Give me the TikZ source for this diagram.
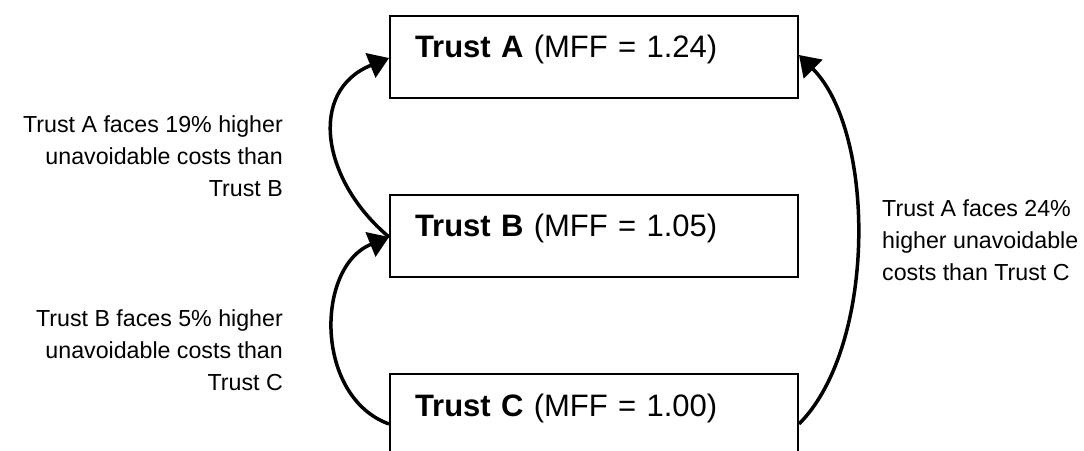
\documentclass[tikz,border=0pt]{standalone}
\usepackage{fontspec}
\setmainfont{Liberation Sans}
\usetikzlibrary{arrows.meta}

\begin{document}
\begin{tikzpicture}[x=1pt, y=1pt, node distance=179pt,
	trustbox/.style={draw, line width=2pt, inner xsep=25pt, inner ysep=0pt,
		text width=358pt, align=left, text height=42pt, text depth=40pt,
		font=\fontsize{31}{37}\selectfont},
	note/.style={inner sep=0pt, font=\fontsize{23.2}{32}\selectfont},
	link/.style={line width=3.5pt, -{Triangle[length=20pt, width=26pt]}}]
	\clip (0,0) rectangle (1084,450);
	\node (A) [trustbox] at (594,393) {\textbf{Trust A} (MFF = 1.24)};
	\node (B) [trustbox, below of=A] {\textbf{Trust B} (MFF = 1.05)};
	\node (C) [trustbox, below of=B] {\textbf{Trust C} (MFF = 1.00)};
	\node (AB) [note, align=right, anchor=north east] at (283,334.4)
		{Trust A faces 19\% higher\\unavoidable costs than\\Trust B};
	\node (BC) [note, align=right, anchor=north east] at (283,140.4)
		{Trust B faces 5\% higher\\unavoidable costs than\\Trust C};
	\node (AC) [note, align=left, anchor=north west] at (882,250.4)
		{Trust A faces 24\%\\higher unavoidable\\costs than Trust C};
	\draw[link] (B.base west) to[out=140, in=202, looseness=1.26] (A.base west);
	\draw[link] ([yshift=-9pt]C.west) to[out=160, in=202, looseness=1.09] (B.base west);
	\draw[link] ([yshift=-9pt]C.east) to[out=45, in=-45, looseness=0.76] ([yshift=3pt]A.base east);
\end{tikzpicture}
\end{document}
